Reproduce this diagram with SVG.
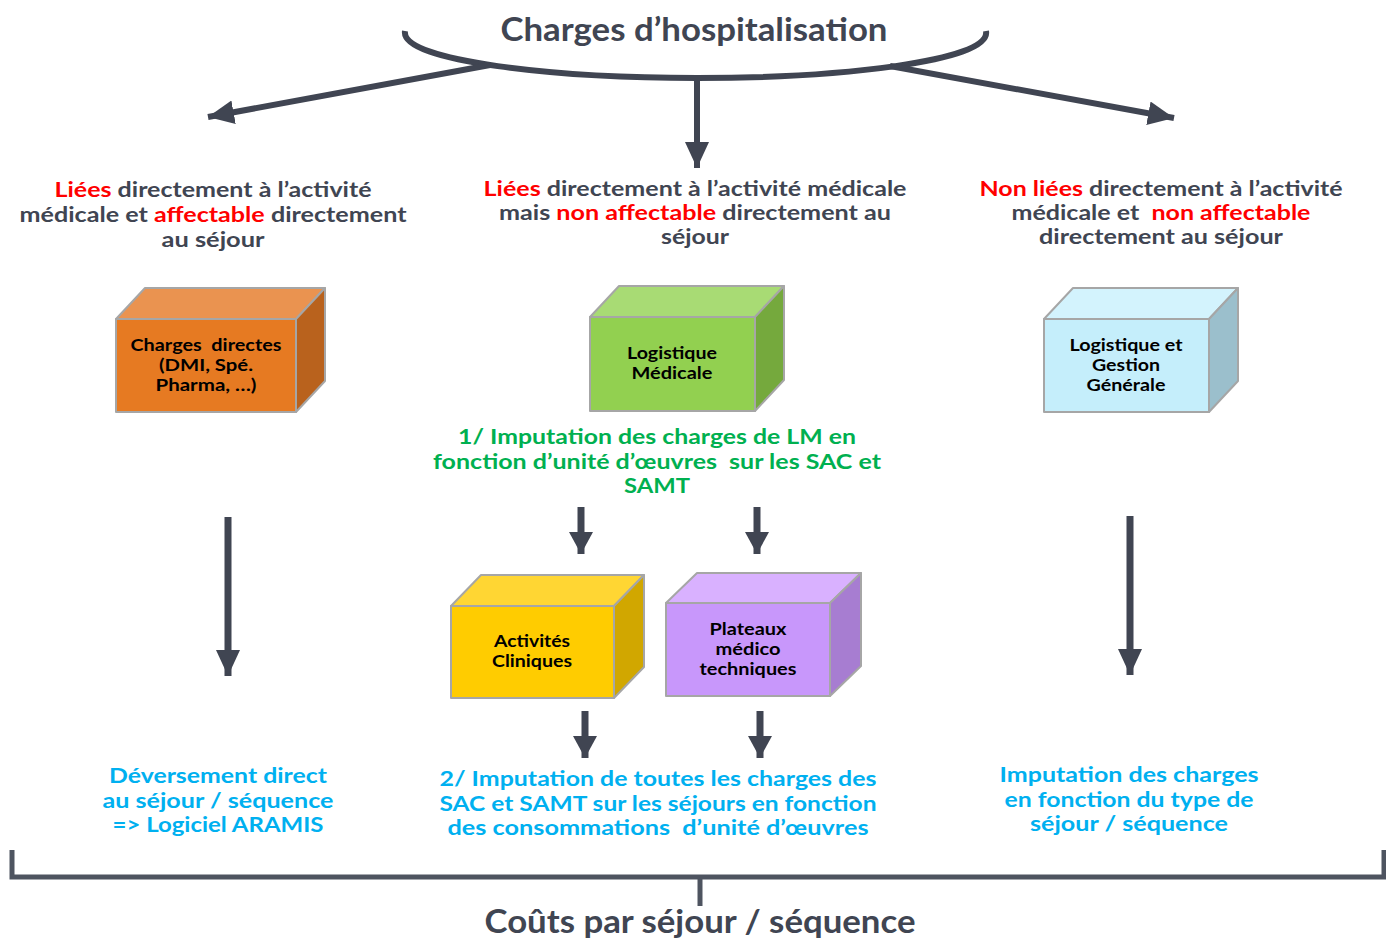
<svg xmlns="http://www.w3.org/2000/svg" width="1386" height="941" viewBox="0 0 1386 941">
<defs>
<marker id="ah" markerUnits="userSpaceOnUse" markerWidth="30" markerHeight="28" refX="26" refY="12" orient="auto">
<path d="M0,0 L26,12 L0,24 Z" fill="#404552"/>
</marker>
<marker id="ahs" markerUnits="userSpaceOnUse" markerWidth="26" markerHeight="26" refX="22" refY="12" orient="auto">
<path d="M0,0 L22,12 L0,24 Z" fill="#404552"/>
</marker>
</defs>
<style>
text{font-family:Lato,"Liberation Sans",sans-serif;font-weight:bold;text-anchor:middle}
.hd{font-size:21px;fill:#404552}
.red{fill:#ff0000}
.bx{font-size:17px;fill:#000}
.grn{font-size:21px;fill:#00b050}
.cy{font-size:21px;fill:#00b0f0}
.ttl{font-size:32px;fill:#404552}
.face{stroke:#a6a6a6;stroke-width:2;stroke-linejoin:round}
.ln{fill:none;stroke:#404552;stroke-width:6}
.lns{fill:none;stroke:#404552;stroke-width:7}
</style>

<g id="title">
<text class="ttl" x="694" y="41" textLength="387" lengthAdjust="spacingAndGlyphs">Charges d’hospitalisation</text>
</g>

<g id="connectors">
<path class="ln" d="M405,31 C400,62 560,78 697,78 C835,78 992,62 986,31"/>
<path class="ln" d="M490,65 L208,117" marker-end="url(#ah)"/>
<path class="ln" d="M890,66 L1174,118" marker-end="url(#ah)"/>
<path class="ln" d="M697,78 L697,168" marker-end="url(#ah)"/>
<path class="lns" d="M228,517 L228,676" marker-end="url(#ah)"/>
<path class="lns" d="M1130,516 L1130,675" marker-end="url(#ah)"/>
<path class="lns" d="M581,507 L581,554" marker-end="url(#ahs)"/>
<path class="lns" d="M757,507 L757,554" marker-end="url(#ahs)"/>
<path class="lns" d="M585,711 L585,758" marker-end="url(#ahs)"/>
<path class="lns" d="M760,711 L760,758" marker-end="url(#ahs)"/>
<path d="M12,850 L12,877 L1384,877 L1384,850" fill="none" stroke="#4e5460" stroke-width="5"/>
<path d="M700,877 L700,906" fill="none" stroke="#4e5460" stroke-width="5"/>
</g>

<g id="cat-left">
<text class="hd" x="213" y="197" textLength="317" lengthAdjust="spacingAndGlyphs"><tspan class="red">Liées</tspan> directement à l’activité</text>
<text class="hd" x="213" y="222" textLength="387" lengthAdjust="spacingAndGlyphs">médicale et <tspan class="red">affectable</tspan> directement</text>
<text class="hd" x="213" y="247" textLength="103" lengthAdjust="spacingAndGlyphs">au séjour</text>
</g>
<g id="cat-middle">
<text class="hd" x="695" y="196" textLength="423" lengthAdjust="spacingAndGlyphs"><tspan class="red">Liées</tspan> directement à l’activité médicale</text>
<text class="hd" x="695" y="220" textLength="392" lengthAdjust="spacingAndGlyphs">mais <tspan class="red">non affectable</tspan> directement au</text>
<text class="hd" x="695" y="244" textLength="68" lengthAdjust="spacingAndGlyphs">séjour</text>
</g>
<g id="cat-right">
<text class="hd" x="1161" y="196" textLength="363" lengthAdjust="spacingAndGlyphs"><tspan class="red">Non liées</tspan> directement à l’activité</text>
<text class="hd" x="1161" y="220" textLength="299" lengthAdjust="spacingAndGlyphs" xml:space="preserve">médicale et  <tspan class="red">non affectable</tspan></text>
<text class="hd" x="1161" y="244" textLength="244" lengthAdjust="spacingAndGlyphs">directement au séjour</text>
</g>

<g id="box-charges-directes">
<polygon class="face" points="116,319 145,288 325,288 296,319" fill="#ea9350"/>
<polygon class="face" points="296,319 325,288 325,381 296,412" fill="#b9621d"/>
<rect class="face" x="116" y="319" width="180" height="93" fill="#e67a22"/>
<text class="bx" x="206" y="351" textLength="151" lengthAdjust="spacingAndGlyphs" xml:space="preserve">Charges  directes</text>
<text class="bx" x="206" y="371" textLength="94" lengthAdjust="spacingAndGlyphs">(DMI, Spé.</text>
<text class="bx" x="206" y="391" textLength="101" lengthAdjust="spacingAndGlyphs">Pharma, …)</text>
</g>

<g id="box-logistique-medicale">
<polygon class="face" points="590,317 619,286 784,286 755,317" fill="#a8db74"/>
<polygon class="face" points="755,317 784,286 784,380 755,411" fill="#75a93d"/>
<rect class="face" x="590" y="317" width="165" height="94" fill="#92d050"/>
<text class="bx" x="672" y="359" textLength="90" lengthAdjust="spacingAndGlyphs">Logistique</text>
<text class="bx" x="672" y="379" textLength="81" lengthAdjust="spacingAndGlyphs">Médicale</text>
</g>

<g id="box-logistique-gestion">
<polygon class="face" points="1044,319 1073,288 1238,288 1209,319" fill="#d3f3fd"/>
<polygon class="face" points="1209,319 1238,288 1238,381 1209,412" fill="#9bbfcc"/>
<rect class="face" x="1044" y="319" width="165" height="93" fill="#c5eefb"/>
<text class="bx" x="1126" y="351" textLength="113" lengthAdjust="spacingAndGlyphs">Logistique et</text>
<text class="bx" x="1126" y="371" textLength="68" lengthAdjust="spacingAndGlyphs">Gestion</text>
<text class="bx" x="1126" y="391" textLength="79" lengthAdjust="spacingAndGlyphs">Générale</text>
</g>

<g id="step1">
<text class="grn" x="657" y="444" textLength="398" lengthAdjust="spacingAndGlyphs">1/ Imputation des charges de LM en</text>
<text class="grn" x="657" y="469" textLength="448" lengthAdjust="spacingAndGlyphs" xml:space="preserve">fonction d’unité d’œuvres  sur les SAC et</text>
<text class="grn" x="657" y="493" textLength="66" lengthAdjust="spacingAndGlyphs">SAMT</text>
</g>

<g id="box-activites-cliniques">
<polygon class="face" points="451,606 481,575 644,575 614,606" fill="#ffd633"/>
<polygon class="face" points="614,606 644,575 644,667 614,698" fill="#d1a700"/>
<rect class="face" x="451" y="606" width="163" height="92" fill="#ffcc00"/>
<text class="bx" x="532" y="647" textLength="76" lengthAdjust="spacingAndGlyphs">Activités</text>
<text class="bx" x="532" y="667" textLength="80" lengthAdjust="spacingAndGlyphs">Cliniques</text>
</g>

<g id="box-plateaux">
<polygon class="face" points="666,603 697,573 861,573 830,603" fill="#d9b1ff"/>
<polygon class="face" points="830,603 861,573 861,666 830,696" fill="#a77dd1"/>
<rect class="face" x="666" y="603" width="164" height="93" fill="#c897fb"/>
<text class="bx" x="748" y="635" textLength="77" lengthAdjust="spacingAndGlyphs">Plateaux</text>
<text class="bx" x="748" y="655" textLength="65" lengthAdjust="spacingAndGlyphs">médico</text>
<text class="bx" x="748" y="675" textLength="97" lengthAdjust="spacingAndGlyphs">techniques</text>
</g>

<g id="result-left">
<text class="cy" x="218" y="783" textLength="218" lengthAdjust="spacingAndGlyphs">Déversement direct</text>
<text class="cy" x="218" y="808" textLength="231" lengthAdjust="spacingAndGlyphs">au séjour / séquence</text>
<text class="cy" x="218" y="832" textLength="211" lengthAdjust="spacingAndGlyphs">=&gt; Logiciel ARAMIS</text>
</g>
<g id="result-middle">
<text class="cy" x="658" y="786" textLength="437" lengthAdjust="spacingAndGlyphs">2/ Imputation de toutes les charges des</text>
<text class="cy" x="658" y="811" textLength="437" lengthAdjust="spacingAndGlyphs">SAC et SAMT sur les séjours en fonction</text>
<text class="cy" x="658" y="835" textLength="421" lengthAdjust="spacingAndGlyphs" xml:space="preserve">des consommations  d’unité d’œuvres</text>
</g>
<g id="result-right">
<text class="cy" x="1129" y="782" textLength="259" lengthAdjust="spacingAndGlyphs">Imputation des charges</text>
<text class="cy" x="1129" y="807" textLength="249" lengthAdjust="spacingAndGlyphs">en fonction du type de</text>
<text class="cy" x="1129" y="831" textLength="198" lengthAdjust="spacingAndGlyphs">séjour / séquence</text>
</g>

<g id="bottom-title">
<text class="ttl" x="700" y="933" textLength="431" lengthAdjust="spacingAndGlyphs">Coûts par séjour / séquence</text>
</g>
</svg>
